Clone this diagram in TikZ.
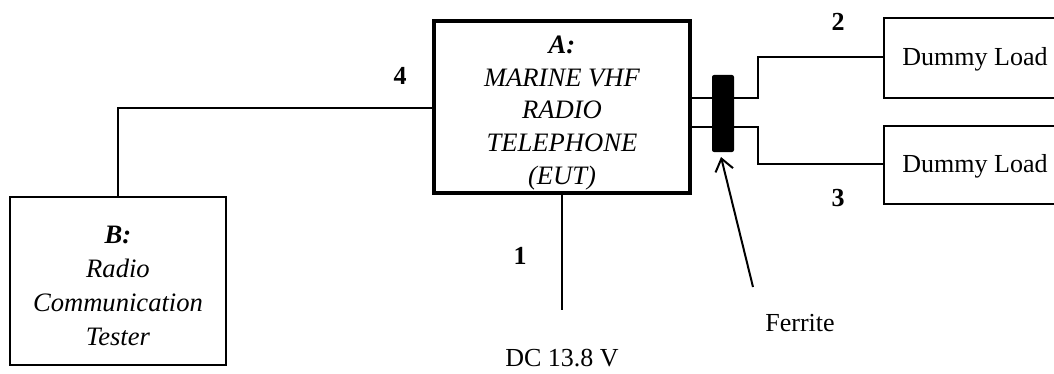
\documentclass[tikz,border=0pt]{standalone}
\usepackage{fontspec}
\setmainfont{Liberation Serif}
\usetikzlibrary{arrows.meta}
\begin{document}
\begin{tikzpicture}[x=0.5pt,y=-0.5pt,
  txt/.style={font=\fontsize{13}{16.5}\selectfont, align=center, inner sep=0pt},
  num/.style={font=\fontsize{13}{15}\selectfont\bfseries, inner sep=0pt},
  wire/.style={line width=1pt},
  thin box/.style={draw, line width=0.7pt},
]
\useasboundingbox (0,0) rectangle (1054,374);
% boxes
\draw[line width=1.6pt] (434,21) rectangle (690,193);
\coordinate (Aw) at (434,108);
\coordinate (As) at (562,193);
\coordinate (Ae1) at (690,98);
\coordinate (Ae2) at (690,127);
\node[txt, font=\fontsize{13.3}{16.4}\selectfont\itshape] (Atext) at (562,113) {\textbf{A:}\\MARINE VHF\\RADIO\\TELEPHONE\\(EUT)};
\draw[line width=1.1pt] (10,197) rectangle (226,365);
\coordinate (Bn) at (118,197);
\node[txt, font=\fontsize{13.3}{17}\selectfont\itshape] (Btext) at (118,286) {\textbf{B:}\\Radio\\Communication\\Tester};
\draw[thin box] (884,18) rectangle (1060,98);
\draw[thin box] (884,126) rectangle (1060,204);
\coordinate (D1) at (884,57);
\coordinate (D2) at (884,164);
\node[txt] (D1t) at (975,59) {Dummy Load};
\node[txt] (D2t) at (975,166) {Dummy Load};
% ferrite
\node[fill=black, rounded corners=1pt, minimum width=11pt, minimum height=38.5pt, inner sep=0pt] (F) at (723,113.5) {};
% wires
\draw[wire] (Bn) |- (Aw);
\draw[wire] (Ae1) -- (758,98) |- (D1);
\draw[wire] (Ae2) -- (758,127) |- (D2);
\coordinate (Pend) at (562,310);
\draw[wire] (As) -- (Pend);
% labels
\node[num] (n4) at (400,76) {4};
\node[num] (n2) at (838,22) {2};
\node[num] (n3) at (838,198) {3};
\node[num] (n1) at (520,256) {1};
\node[txt] (dc) at (562,358) {DC 13.8 V};
\node[txt] (fer) at (800,323) {Ferrite};
\coordinate (at) at (753,287);
\coordinate (ah) at (721,157);
\draw[wire, -{Straight Barb[length=6pt,width=9pt]}] (at) -- (ah);
\end{tikzpicture}
\end{document}
